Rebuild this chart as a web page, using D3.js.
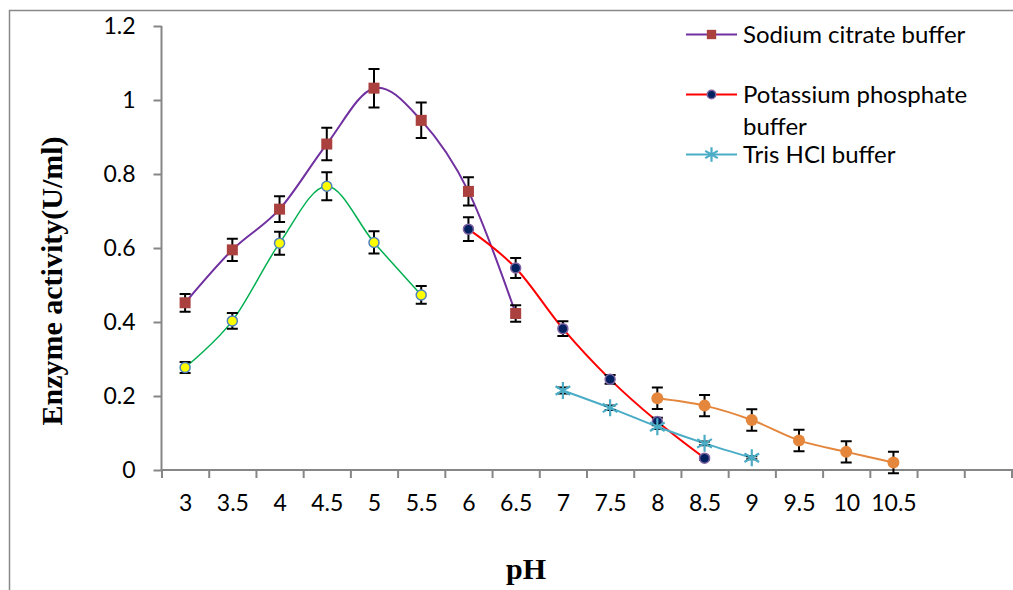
<!DOCTYPE html>
<html>
<head>
<meta charset="utf-8">
<script src="https://cdn.jsdelivr.net/npm/d3@7"></script>
<style>
  html, body { margin: 0; padding: 0; background: #fff; }
  .tick text { font-family: Lato, "Open Sans", sans-serif; }
</style>
</head>
<body>
<div class="vis-ph"></div>
<script>
// x categories (pH)
const phTicks = [3, 3.5, 4, 4.5, 5, 5.5, 6, 6.5, 7, 7.5, 8, 8.5, 9, 9.5, 10, 10.5];
const yTicks = [0, 0.2, 0.4, 0.6, 0.8, 1, 1.2];

// sodium citrate buffer
const citratePH = [3, 3.5, 4, 4.5, 5, 5.5, 6, 6.5];
const citrateVal = [0.452, 0.595, 0.705, 0.881, 1.032, 0.945, 0.753, 0.423];
const citrateErr = [0.024, 0.03, 0.035, 0.044, 0.052, 0.048, 0.038, 0.022];

// second acidic series (no legend entry)
const greenPH = [3, 3.5, 4, 4.5, 5, 5.5];
const greenVal = [0.277, 0.403, 0.613, 0.767, 0.615, 0.473];
const greenErr = [0.015, 0.021, 0.031, 0.038, 0.03, 0.024];

// potassium phosphate buffer
const phosphatePH = [6, 6.5, 7, 7.5, 8, 8.5];
const phosphateVal = [0.651, 0.546, 0.382, 0.245, 0.131, 0.032];
const phosphateErr = [0.032, 0.027, 0.02, 0.012, 0.01, 0.004];

// tris HCl buffer
const trisPH = [7, 7.5, 8, 8.5, 9];
const trisVal = [0.215, 0.168, 0.117, 0.072, 0.033];
const trisErr = [0.008, 0.006, 0.006, 0.005, 0.004];

// alkaline series (no legend entry)
const orangePH = [8, 8.5, 9, 9.5, 10, 10.5];
const orangeVal = [0.194, 0.174, 0.135, 0.08, 0.049, 0.02];
const orangeErr = [0.029, 0.029, 0.029, 0.029, 0.029, 0.029];

const draw = () => {
  const width = 1013;
  const height = 590;
  const svg = d3.select('.vis-ph').append('svg')
    .attr('width', width).attr('height', height);

  // chart area frame
  svg.append('rect')
    .attr('x', 9.5).attr('y', 10.5)
    .attr('width', 1100).attr('height', 700)
    .attr('fill', 'none').attr('stroke', '#898989').attr('stroke-width', 1.5);

  // x: 18 slots, 3 .. 11.5 (last two empty)
  const x = d3.scaleLinear().domain([2.75, 11.75]).range([161.5, 1011.5]);
  const y = d3.scaleLinear().domain([0, 1.2]).range([470, 26]);

  const axisColor = '#868686';

  // y axis
  const gy = svg.append('g').attr('transform', 'translate(161.5,0)')
    .call(d3.axisLeft(y).tickValues(yTicks).tickSize(8).tickPadding(18)
      .tickFormat(d => +d.toFixed(1)));
  gy.select('.domain').attr('stroke', axisColor).attr('stroke-width', 2)
    .attr('d', `M0,${y(1.2)}V${y(0)}`);
  gy.selectAll('.tick line').attr('stroke', axisColor).attr('stroke-width', 2);
  gy.selectAll('.tick text').attr('font-size', 23).attr('fill', '#000');

  // x axis: boundary tick marks
  const bounds = d3.range(19).map(i => 2.75 + i * 0.5);
  const gx = svg.append('g').attr('transform', 'translate(0,470)')
    .call(d3.axisBottom(x).tickValues(bounds).tickSize(8).tickFormat(''));
  gx.select('.domain').attr('stroke', axisColor).attr('stroke-width', 2)
    .attr('d', `M${x(2.75)},0H${width}`);
  gx.selectAll('.tick line').attr('stroke', axisColor).attr('stroke-width', 2);

  // x axis labels centred in slots
  const gl = svg.append('g').attr('transform', 'translate(0,470)')
    .call(d3.axisBottom(x).tickValues(phTicks).tickSize(0).tickPadding(25)
      .tickFormat(d => String(d)));
  gl.select('.domain').remove();
  gl.selectAll('.tick text').attr('font-size', 23).attr('fill', '#000');

  // axis titles
  svg.append('text')
    .attr('transform', `translate(62,${(129 + 433) / 2}) rotate(-90)`)
    .attr('text-anchor', 'middle')
    .attr('font-family', '"Liberation Serif", "Times New Roman", serif')
    .attr('font-weight', 'bold').attr('font-size', 30)
    .text('Enzyme activity(U/ml)');
  svg.append('text')
    .attr('x', 526).attr('y', 579)
    .attr('text-anchor', 'middle')
    .attr('font-family', '"Liberation Serif", "Times New Roman", serif')
    .attr('font-weight', 'bold').attr('font-size', 30)
    .text('pH');

  const line = d3.line()
    .x(d => x(d.ph))
    .y(d => y(d.v))
    .curve(d3.curveCardinal.tension(0));

  const zip = (ph, v, e) => ph.map((p, i) => ({ ph: p, v: v[i], e: e[i] }));

  const series = [
    { data: zip(citratePH, citrateVal, citrateErr), color: '#7030A0', lw: 2, marker: 'square', fill: '#AA413E', stroke: 'none' },
    { data: zip(greenPH, greenVal, greenErr), color: '#00B050', lw: 1.5, marker: 'circle', r: 5, fill: '#FFFF00', stroke: '#4F81BD' },
    { data: zip(phosphatePH, phosphateVal, phosphateErr), color: '#FF0000', lw: 2, marker: 'circle', r: 5, fill: '#002060', stroke: '#8064A2' },
    { data: zip(trisPH, trisVal, trisErr), color: '#4BACC6', lw: 2, marker: 'star', fill: 'none', stroke: '#4BACC6' },
    { data: zip(orangePH, orangeVal, orangeErr), color: '#E4863C', lw: 2, marker: 'circle', r: 6, fill: '#E4863C', stroke: 'none' }
  ];

  const starPath = (r) => {
    const a = r * Math.sin(Math.PI / 3), b = r * Math.cos(Math.PI / 3);
    return `M0,${-r}V${r}M${-a},${-b}L${a},${b}M${-a},${b}L${a},${-b}`;
  };

  const drawMarker = (g, s, cx, cy, scale) => {
    const k = scale || 1;
    if (s.marker === 'square') {
      g.append('rect').attr('x', cx - 5.5 * k).attr('y', cy - 5.5 * k)
        .attr('width', 11 * k).attr('height', 11 * k).attr('fill', s.fill);
    } else if (s.marker === 'circle') {
      g.append('circle').attr('cx', cx).attr('cy', cy).attr('r', s.r * k)
        .attr('fill', s.fill).attr('stroke', s.stroke).attr('stroke-width', 1.5);
    } else {
      g.append('path').attr('d', starPath(8.5 * k))
        .attr('transform', `translate(${cx},${cy})`)
        .attr('stroke', s.stroke).attr('stroke-width', 2.2).attr('fill', 'none');
    }
  };

  series.forEach(s => {
    const g = svg.append('g');
    g.append('path').attr('d', line(s.data))
      .attr('fill', 'none').attr('stroke', s.color).attr('stroke-width', s.lw);
    // error bars
    s.data.forEach(d => {
      const cx = x(d.ph);
      const y0 = y(d.v - d.e), y1 = y(d.v + d.e);
      g.append('path')
        .attr('d', `M${cx},${y0}V${y1}M${cx - 5.5},${y0}H${cx + 5.5}M${cx - 5.5},${y1}H${cx + 5.5}`)
        .attr('stroke', '#000').attr('stroke-width', 2).attr('fill', 'none');
    });
    s.data.forEach(d => drawMarker(g, s, x(d.ph), y(d.v)));
  });

  // legend
  const legendItems = [
    { s: series[0], lines: ['Sodium citrate buffer'], cy: 34.5 },
    { s: series[2], lines: ['Potassium phosphate', 'buffer'], cy: 94.5 },
    { s: series[3], lines: ['Tris HCl buffer'], cy: 154.5 }
  ];
  const lg = svg.append('g');
  legendItems.forEach(it => {
    lg.append('line').attr('x1', 686).attr('x2', 737)
      .attr('y1', it.cy).attr('y2', it.cy)
      .attr('stroke', it.s.color).attr('stroke-width', 2);
    drawMarker(lg, it.s, 711.5, it.cy, 0.85);
    it.lines.forEach((t, i) => {
      lg.append('text').attr('x', 743).attr('y', it.cy + 8 + i * 32)
        .attr('font-family', 'Lato, "Open Sans", sans-serif').attr('font-size', 24)
        .attr('fill', '#000').text(t);
    });
  });
};

draw();
</script>
</body>
</html>
